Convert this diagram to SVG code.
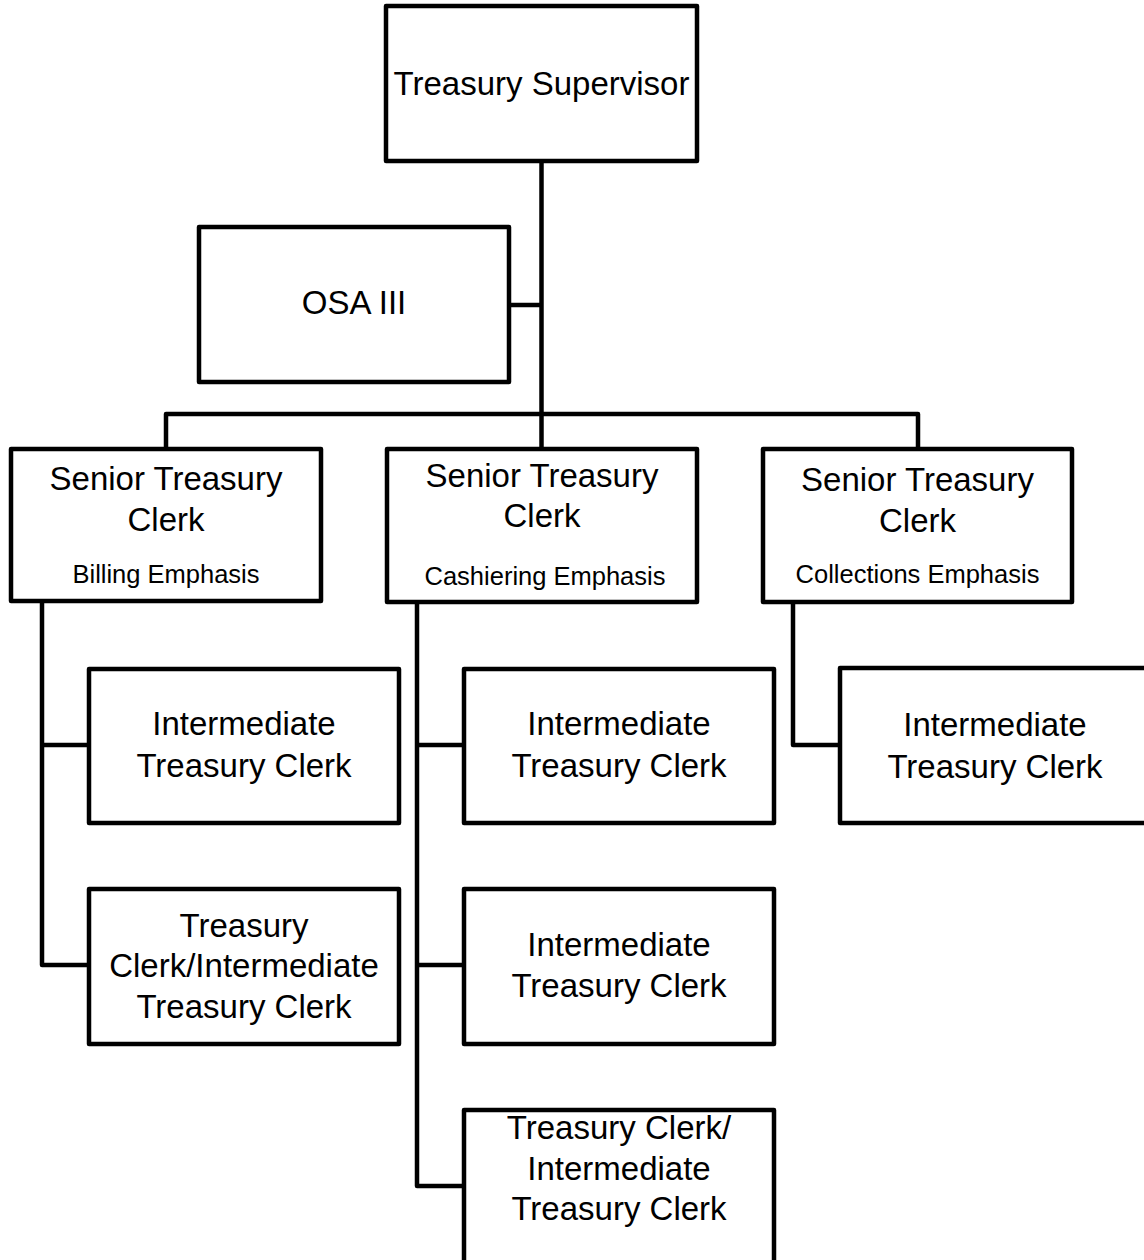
<svg xmlns="http://www.w3.org/2000/svg" width="1144" height="1260" viewBox="0 0 1144 1260">
<style>
.box{fill:#fff;stroke:#000;stroke-width:4.5;stroke-linejoin:round}
.conn{fill:none;stroke:#000;stroke-width:4.5;stroke-linejoin:round}
text{font-family:"Liberation Sans",Arial,sans-serif;fill:#000;text-anchor:middle}
.t{font-size:33px}
.s{font-size:25.5px}
</style>
<rect width="1144" height="1260" fill="#fff"/>
<g id="connectors">
<path class="conn" d="M541.5 161 V449"/>
<path class="conn" d="M509 305 H541.5"/>
<path class="conn" d="M166 449 V414 H918 V449"/>
<path class="conn" d="M42 601 V965 H89 M42 745 H89"/>
<path class="conn" d="M417 602 V1186 H464 M417 745 H464 M417 965 H464"/>
<path class="conn" d="M793 603 V745 H840"/>
</g>
<g id="treasury-supervisor">
<rect class="box" x="386" y="6" width="311" height="155"/>
<text class="t" x="541.5" y="95">Treasury Supervisor</text>
</g>
<g id="osa-iii">
<rect class="box" x="199" y="227" width="310" height="155"/>
<text class="t" x="354" y="314">OSA III</text>
</g>
<g id="senior-billing">
<rect class="box" x="11" y="449" width="310" height="152"/>
<text class="t" x="166" y="490">Senior Treasury</text>
<text class="t" x="166" y="531">Clerk</text>
<text class="s" x="166" y="583">Billing Emphasis</text>
</g>
<g id="senior-cashiering">
<rect class="box" x="387" y="449" width="310" height="153"/>
<text class="t" x="542" y="487">Senior Treasury</text>
<text class="t" x="542" y="527">Clerk</text>
<text class="s" x="545" y="585">Cashiering Emphasis</text>
</g>
<g id="senior-collections">
<rect class="box" x="763" y="449" width="309" height="153"/>
<text class="t" x="917.5" y="491">Senior Treasury</text>
<text class="t" x="917.5" y="532">Clerk</text>
<text class="s" x="917.5" y="583">Collections Emphasis</text>
</g>
<g id="billing-intermediate">
<rect class="box" x="89" y="669" width="310" height="154"/>
<text class="t" x="244" y="735">Intermediate</text>
<text class="t" x="244" y="777">Treasury Clerk</text>
</g>
<g id="billing-clerk">
<rect class="box" x="89" y="889" width="310" height="155"/>
<text class="t" x="244" y="937">Treasury</text>
<text class="t" x="244" y="977">Clerk/Intermediate</text>
<text class="t" x="244" y="1018">Treasury Clerk</text>
</g>
<g id="cashiering-intermediate-1">
<rect class="box" x="464" y="669" width="310" height="154"/>
<text class="t" x="619" y="735">Intermediate</text>
<text class="t" x="619" y="777">Treasury Clerk</text>
</g>
<g id="cashiering-intermediate-2">
<rect class="box" x="464" y="889" width="310" height="155"/>
<text class="t" x="619" y="956">Intermediate</text>
<text class="t" x="619" y="997">Treasury Clerk</text>
</g>
<g id="cashiering-clerk">
<rect class="box" x="464" y="1110" width="310" height="160"/>
<text class="t" x="619" y="1139">Treasury Clerk/</text>
<text class="t" x="619" y="1180">Intermediate</text>
<text class="t" x="619" y="1220">Treasury Clerk</text>
</g>
<g id="collections-intermediate">
<rect class="box" x="840" y="668" width="310" height="155"/>
<text class="t" x="995" y="736">Intermediate</text>
<text class="t" x="995" y="778">Treasury Clerk</text>
</g>
</svg>
